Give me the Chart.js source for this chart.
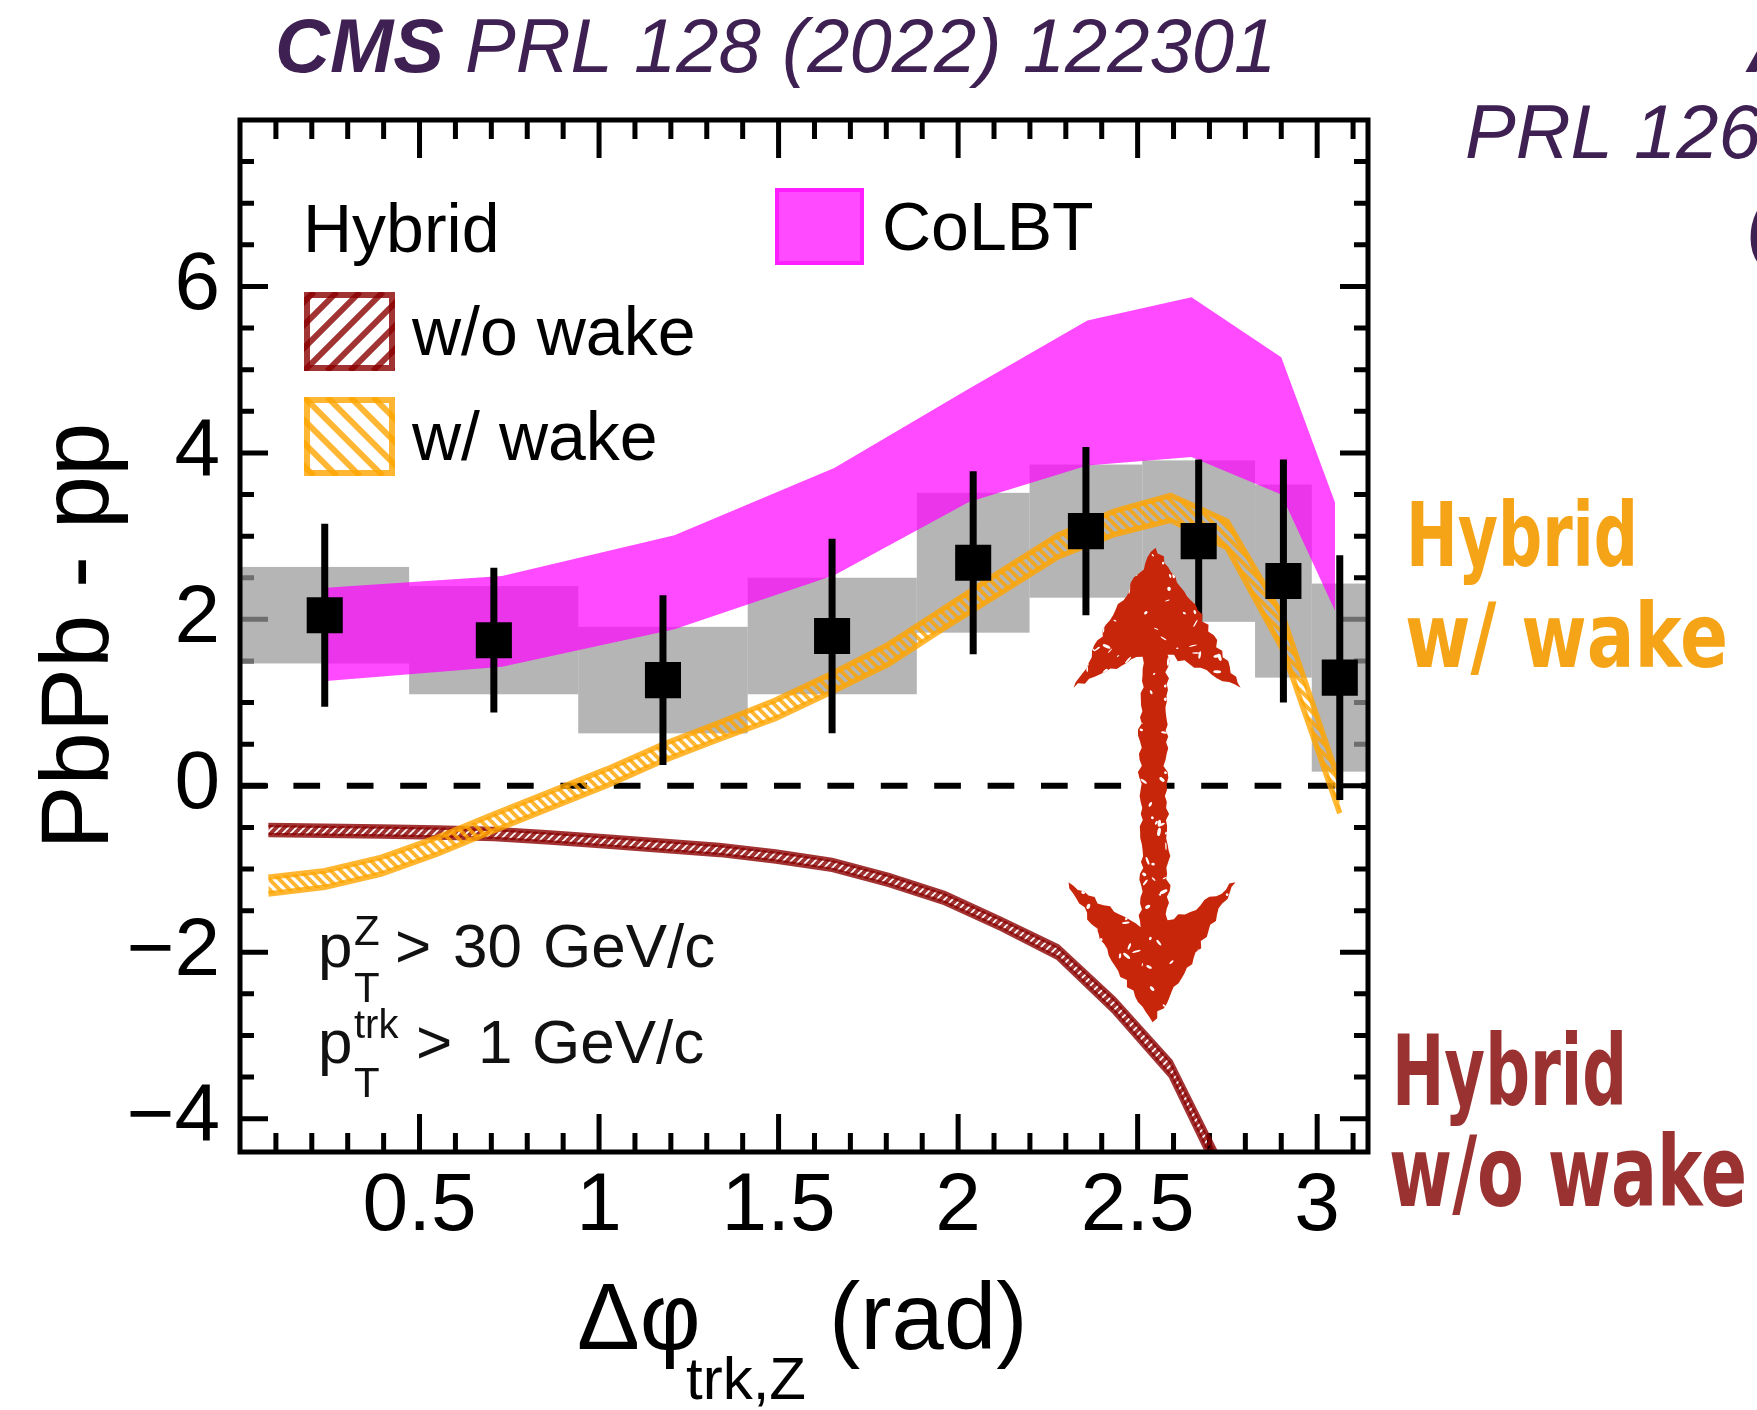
<!DOCTYPE html>
<html>
<head>
<meta charset="utf-8">
<title>PbPb - pp vs Δφ</title>
<script src="https://cdn.jsdelivr.net/npm/chart.js@4.4.1/dist/chart.umd.min.js"></script>
<style>
  html, body { margin: 0; padding: 0; background: #fff; }
  canvas { display: block; }
</style>
</head>
<body>
<canvas id="chart" width="1757" height="1410"></canvas>
<script>
/* PbPb - pp track yield vs delta-phi(trk,Z): CMS points, CoLBT and Hybrid bands */

// CMS measurement: bins, values, stat and syst uncertainties
const binEdges = [0, 0.471, 0.942, 1.414, 1.885, 2.199, 2.513, 2.827, 2.985, 3.142];
const cmsX     = [0.236, 0.707, 1.178, 1.649, 2.042, 2.356, 2.670, 2.906, 3.063];
const cmsY     = [2.05, 1.75, 1.27, 1.80, 2.68, 3.06, 2.94, 2.46, 1.30];
const cmsStat  = [1.10, 0.87, 1.02, 1.17, 1.10, 1.01, 0.98, 1.46, 1.47];
const cmsSyst  = [0.58, 0.65, 0.64, 0.70, 0.84, 0.80, 0.97, 1.16, 1.13];

// CoLBT band
const colbtX    = [0.24, 0.73, 1.21, 1.655, 2.03, 2.36, 2.65, 2.90, 3.05];
const colbtLow  = [1.26, 1.43, 1.88, 2.53, 3.41, 3.85, 3.95, 3.50, 2.10];
const colbtHigh = [2.38, 2.52, 3.01, 3.82, 4.77, 5.59, 5.87, 5.15, 3.40];

// Hybrid model, with and without wake
const hybridX = [0.079, 0.236, 0.393, 0.550, 0.707, 0.864, 1.021, 1.178, 1.335, 1.492,
                 1.649, 1.806, 1.963, 2.120, 2.278, 2.435, 2.592, 2.749, 2.906, 3.063];
const noWakeHigh = [-0.47, -0.48, -0.49, -0.50, -0.52, -0.56, -0.61, -0.66, -0.71, -0.79,
                    -0.89, -1.07, -1.29, -1.60, -1.93, -2.56, -3.31, -4.67];
const noWakeLow  = [-0.59, -0.60, -0.61, -0.62, -0.64, -0.68, -0.73, -0.78, -0.83, -0.91,
                    -1.01, -1.19, -1.41, -1.72, -2.07, -2.72, -3.49, -4.89];
const wakeHigh = [-1.10, -1.02, -0.86, -0.62, -0.34, -0.07, 0.20, 0.50, 0.76, 1.03,
                  1.35, 1.70, 2.14, 2.58, 3.01, 3.30, 3.49, 3.18, 2.02, 0.03];
const wakeLow  = [-1.30, -1.22, -1.06, -0.82, -0.54, -0.27, 0.00, 0.30, 0.56, 0.81,
                  1.13, 1.46, 1.90, 2.32, 2.75, 3.02, 3.19, 2.86, 1.62, -0.33];

// axis labels
const xLabels = [0.5, 1, 1.5, 2, 2.5, 3];
const yLabels = [-4, -2, 0, 2, 4, 6];

// double arrow between the two Hybrid curves (x, top tip, bottom tip)
const arrowX = 2.55, arrowTop = 2.86, arrowBottom = -2.84;

const SANS = "'Liberation Sans', Arial, Helvetica, sans-serif";
const DARKRED = 'rgba(139,0,0,0.8)';
const ORANGE = 'rgba(255,165,0,0.8)';
const MAGENTA = 'rgba(255,0,255,0.71)';
const PURPLE = '#3e2152';

const canvas = document.getElementById('chart');
const mainCtx = canvas.getContext('2d');

const xy = (xs, ys) => ys.map((v, i) => ({ x: xs[i], y: v }));

function hatch(dir, color, step, width) {
  const c = document.createElement('canvas');
  c.width = c.height = step;
  const g = c.getContext('2d');
  g.strokeStyle = color;
  g.lineWidth = width;
  g.beginPath();
  for (let k = -1; k <= 1; k++) {
    if (dir === '/') { g.moveTo(k * step - 1, step + 1); g.lineTo(k * step + step + 1, -1); }
    else { g.moveTo(k * step - 1, -1); g.lineTo(k * step + step + 1, step + 1); }
  }
  g.stroke();
  return mainCtx.createPattern(c, 'repeat');
}

function hash(n) {
  const s = Math.sin(n * 127.1 + 311.7) * 43758.5453;
  return s - Math.floor(s);
}

// frame ticks + systematic boxes under the datasets, frame + arrow on top
const decor = {
  id: 'decor',
  beforeDatasetsDraw(chart) {
    const { ctx, chartArea: a, scales: { x, y } } = chart;
    ctx.save();
    ctx.strokeStyle = '#000';
    ctx.lineWidth = 5;
    ctx.beginPath();
    for (let i = 1; i <= 31; i++) {
      const px = x.getPixelForValue(i / 10);
      const len = i % 5 === 0 ? 38 : 19;
      ctx.moveTo(px, a.bottom); ctx.lineTo(px, a.bottom - len);
      ctx.moveTo(px, a.top); ctx.lineTo(px, a.top + len);
    }
    for (let i = -8; i <= 15; i++) {
      const py = y.getPixelForValue(i / 2);
      const len = i % 4 === 0 ? 28 : 14;
      ctx.moveTo(a.left, py); ctx.lineTo(a.left + len, py);
      ctx.moveTo(a.right, py); ctx.lineTo(a.right - len, py);
    }
    ctx.stroke();

    ctx.fillStyle = 'rgba(153,153,153,0.72)';
    cmsX.forEach((_, i) => {
      const l = x.getPixelForValue(binEdges[i]);
      const r = x.getPixelForValue(binEdges[i + 1]);
      const t = y.getPixelForValue(cmsY[i] + cmsSyst[i]);
      const b = y.getPixelForValue(cmsY[i] - cmsSyst[i]);
      ctx.fillRect(l, t, r - l, b - t);
    });
    ctx.restore();
  },
  beforeDatasetDraw(chart, args) {
    if (chart.data.datasets[args.index].label !== 'CMS') return;
    const { ctx, scales: { x, y } } = chart;
    ctx.save();
    ctx.strokeStyle = '#000';
    ctx.lineWidth = 7;
    ctx.beginPath();
    cmsX.forEach((v, i) => {
      const px = x.getPixelForValue(v);
      ctx.moveTo(px, y.getPixelForValue(cmsY[i] + cmsStat[i]));
      ctx.lineTo(px, y.getPixelForValue(cmsY[i] - cmsStat[i]));
    });
    ctx.stroke();
    ctx.restore();
  },
  afterDatasetsDraw(chart) {
    const { ctx, chartArea: a, scales: { x, y } } = chart;
    ctx.save();
    ctx.strokeStyle = '#000';
    ctx.lineWidth = 5;
    ctx.strokeRect(a.left, a.top, a.right - a.left, a.bottom - a.top);
    ctx.restore();
    drawArrow(ctx, x.getPixelForValue(arrowX), y.getPixelForValue(arrowTop), y.getPixelForValue(arrowBottom));
  },
  afterDraw(chart) {
    drawText(chart.ctx);
  }
};

function drawArrow(ctx, cx, yt, yb) {
  const pts = [
    [cx, yt], [cx + 40, yt + 57], [cx + 85, yt + 140], [cx + 45, yt + 120], [cx + 12, yt + 107],
    [cx + 10, yt + 212], [cx + 13, yb - 172], [cx + 12, yb - 102], [cx + 45, yb - 117], [cx + 80, yb - 140],
    [cx + 38, yb - 64], [cx - 3, yb], [cx - 47, yb - 67], [cx - 87, yb - 140], [cx - 52, yb - 117],
    [cx - 15, yb - 95], [cx - 13, yb - 172], [cx - 16, yt + 212], [cx - 13, yt + 109], [cx - 50, yt + 124],
    [cx - 82, yt + 140], [cx - 40, yt + 62]
  ];
  ctx.save();
  ctx.beginPath();
  let n = 0;
  pts.forEach((p, i) => {
    const q = pts[(i + 1) % pts.length];
    const dx = q[0] - p[0], dy = q[1] - p[1];
    const len = Math.hypot(dx, dy);
    const steps = Math.max(1, Math.round(len / 6));
    for (let s = 0; s < steps; s++) {
      const t = s / steps;
      const j = s === 0 ? 0 : (hash(n++) - 0.5) * 5;
      const px = p[0] + dx * t - dy / len * j;
      const py = p[1] + dy * t + dx / len * j;
      if (i === 0 && s === 0) ctx.moveTo(px, py); else ctx.lineTo(px, py);
    }
  });
  ctx.closePath();
  ctx.fillStyle = '#c8260a';
  ctx.fill();
  ctx.clip();

  // scratchy white flecks
  ctx.fillStyle = '#fff';
  const x0 = cx - 90, w = 180, h = yb - yt;
  for (let k = 0; k < 260; k++) {
    const px = x0 + hash(k * 3 + 1) * w;
    const py = yt + hash(k * 3 + 2) * h;
    const rx = 1 + hash(k * 7 + 5) * 3.5;
    const ry = 0.5 + hash(k * 11 + 3) * 1.3;
    ctx.beginPath();
    ctx.ellipse(px, py, rx, ry, hash(k * 13 + 9) * Math.PI, 0, Math.PI * 2);
    ctx.fill();
  }
  ctx.restore();
}

function hatchBox(ctx, x0, y0, w, h, color, dir) {
  ctx.save();
  ctx.beginPath();
  ctx.rect(x0, y0, w, h);
  ctx.clip();
  ctx.strokeStyle = color;
  ctx.lineWidth = 6;
  ctx.beginPath();
  for (let k = -6; k <= 10; k++) {
    const bx = x0 + k * 23;
    if (dir === '/') { ctx.moveTo(bx, y0 + h); ctx.lineTo(bx + h, y0); }
    else { ctx.moveTo(bx, y0); ctx.lineTo(bx + h, y0 + h); }
  }
  ctx.stroke();
  ctx.restore();
  ctx.save();
  ctx.strokeStyle = color;
  ctx.lineWidth = 6;
  ctx.strokeRect(x0 + 3, y0 + 3, w - 6, h - 6);
  ctx.restore();
}

function fitText(ctx, text, x, y, width) {
  const m = ctx.measureText(text).width;
  ctx.save();
  ctx.translate(x, y);
  ctx.scale(width / m, 1);
  ctx.fillText(text, 0, 0);
  ctx.restore();
}

function drawText(ctx) {
  ctx.save();
  ctx.textBaseline = 'alphabetic';
  ctx.textAlign = 'left';

  // reference line above the frame
  ctx.fillStyle = PURPLE;
  ctx.font = `italic bold 76px ${SANS}`;
  ctx.fillText('CMS', 275, 72);
  ctx.font = `italic 76px ${SANS}`;
  ctx.fillText('PRL 128 (2022) 122301', 465, 72);
  ctx.font = `italic bold 76px ${SANS}`;
  ctx.fillText('A', 1747, 72);
  ctx.font = `italic 76px ${SANS}`;
  ctx.fillText('PRL 126', 1465, 158);
  ctx.fillText('(', 1747, 248);

  // y axis title
  ctx.fillStyle = '#000';
  ctx.save();
  ctx.translate(108, 636);
  ctx.rotate(-Math.PI / 2);
  ctx.textAlign = 'center';
  ctx.font = `96px ${SANS}`;
  ctx.fillText('PbPb - pp', 0, 0);
  ctx.restore();

  // x axis title
  ctx.font = `94px ${SANS}`;
  ctx.fillText('Δφ', 577, 1349);
  ctx.font = `60px ${SANS}`;
  ctx.fillText('trk,Z', 686, 1399);
  ctx.font = `94px ${SANS}`;
  ctx.fillText('(rad)', 829, 1349);

  // legend
  ctx.font = `68px ${SANS}`;
  ctx.fillText('Hybrid', 303, 252);
  hatchBox(ctx, 304, 292, 91, 79, DARKRED, '/');
  ctx.fillStyle = '#000';
  ctx.fillText('w/o wake', 412, 355);
  hatchBox(ctx, 304, 397, 91, 79, ORANGE, '\\');
  ctx.fillStyle = '#000';
  ctx.fillText('w/ wake', 412, 460);

  ctx.fillStyle = MAGENTA;
  ctx.fillRect(775, 188, 89, 77);
  ctx.strokeStyle = 'rgba(255,0,255,0.6)';
  ctx.lineWidth = 4;
  ctx.strokeRect(777, 190, 85, 73);
  ctx.fillStyle = '#000';
  ctx.fillText('CoLBT', 882, 250);

  // kinematic cuts
  ctx.fillStyle = '#111';
  ctx.font = `62px ${SANS}`;
  ctx.fillText('p', 318, 967);
  ctx.fillText('>', 395, 967);
  ctx.fillText('30', 453, 967);
  ctx.fillText('GeV/c', 543, 967);
  ctx.fillText('p', 318, 1063);
  ctx.fillText('>', 416, 1063);
  ctx.fillText('1', 478, 1063);
  ctx.fillText('GeV/c', 532, 1063);
  ctx.font = `42px ${SANS}`;
  ctx.fillText('Z', 354, 945);
  ctx.fillText('T', 354, 1002);
  ctx.fillText('T', 354, 1097);
  ctx.font = `40px ${SANS}`;
  ctx.fillText('trk', 354, 1038);

  // model labels on the right
  ctx.font = `bold 89px 'DejaVu Sans', ${SANS}`;
  ctx.fillStyle = '#f5a417';
  fitText(ctx, 'Hybrid', 1406, 566, 232);
  fitText(ctx, 'w/ wake', 1405, 667, 323);
  ctx.font = `bold 98px 'DejaVu Sans', ${SANS}`;
  ctx.fillStyle = '#9b3232';
  fitText(ctx, 'Hybrid', 1392, 1105, 235);
  fitText(ctx, 'w/o wake', 1389, 1206, 358);
  ctx.restore();
}

const noLine = 'rgba(0,0,0,0)';

new Chart(canvas, {
  type: 'line',
  data: {
    datasets: [
      { label: 'CoLBT low', data: xy(colbtX, colbtLow), borderColor: noLine, borderWidth: 1,
        pointRadius: 0, fill: false, order: 6 },
      { label: 'CoLBT', data: xy(colbtX, colbtHigh), borderColor: noLine, borderWidth: 1,
        pointRadius: 0, fill: '-1', backgroundColor: MAGENTA, order: 6 },
      { label: 'zero', data: [{ x: 0, y: 0 }, { x: Math.PI, y: 0 }], borderColor: '#000',
        borderWidth: 6, borderDash: [26.7, 26.7], pointRadius: 0, fill: false, order: 5 },
      { label: 'w/o wake low', data: xy(hybridX, noWakeLow), borderColor: DARKRED, borderWidth: 4.5,
        pointRadius: 0, fill: false, order: 4 },
      { label: 'w/o wake', data: xy(hybridX, noWakeHigh), borderColor: DARKRED, borderWidth: 4.5,
        pointRadius: 0, fill: '-1', backgroundColor: hatch('/', DARKRED, 8, 4), order: 4 },
      { label: 'w/ wake low', data: xy(hybridX, wakeLow), borderColor: ORANGE, borderWidth: 5.5,
        pointRadius: 0, fill: false, order: 3 },
      { label: 'w/ wake', data: xy(hybridX, wakeHigh), borderColor: ORANGE, borderWidth: 5.5,
        pointRadius: 0, fill: '-1', backgroundColor: hatch('\\', ORANGE, 10, 4), order: 3 },
      { type: 'scatter', label: 'CMS', data: xy(cmsX, cmsY), pointStyle: 'rect', pointRadius: 25.5,
        backgroundColor: '#000', borderWidth: 0, order: 1 }
    ]
  },
  options: {
    responsive: false,
    devicePixelRatio: 1,
    animation: false,
    layout: { padding: { top: 120, right: 389, left: 0, bottom: 0 } },
    plugins: { legend: { display: false }, tooltip: { enabled: false } },
    elements: { line: { tension: 0 } },
    scales: {
      x: {
        type: 'linear', min: 0, max: Math.PI,
        grid: { display: false, drawTicks: false }, border: { display: false },
        afterBuildTicks: s => { s.ticks = xLabels.map(v => ({ value: v })); },
        afterFit: s => { s.height = 258; },
        ticks: { font: { family: SANS, size: 82 }, color: '#000', padding: 6,
                 maxRotation: 0, autoSkip: false, callback: v => String(v) }
      },
      y: {
        type: 'linear', min: -4.4, max: 8,
        grid: { display: false, drawTicks: false }, border: { display: false },
        afterBuildTicks: s => { s.ticks = yLabels.map(v => ({ value: v })); },
        afterFit: s => { s.width = 240; },
        ticks: { font: { family: SANS, size: 82 }, color: '#000', padding: 20,
                 callback: v => (v < 0 ? '\u2212' + Math.abs(v) : String(v)) }
      }
    }
  },
  plugins: [decor]
});
</script>
</body>
</html>
